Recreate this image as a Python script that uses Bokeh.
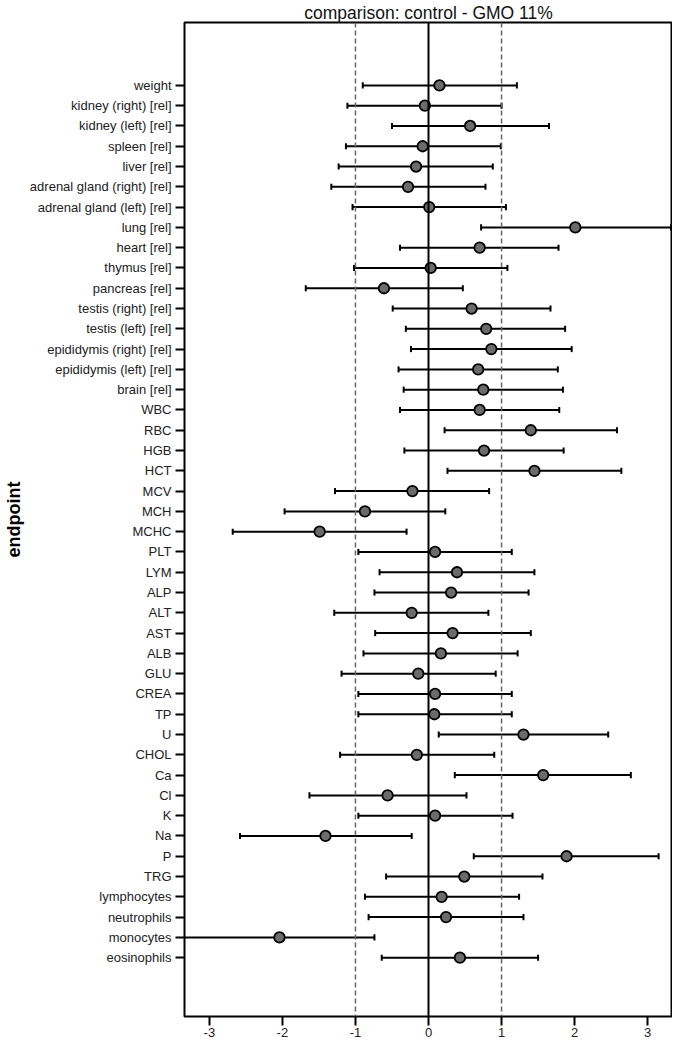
from bokeh.plotting import figure
from bokeh.models import Range1d, FixedTicker, Span, ColumnDataSource
from bokeh.embed import file_html
from bokeh.resources import INLINE

endpoints = ["weight", "kidney (right) [rel]", "kidney (left) [rel]", "spleen [rel]", "liver [rel]",
             "adrenal gland (right) [rel]", "adrenal gland (left) [rel]", "lung [rel]", "heart [rel]",
             "thymus [rel]", "pancreas [rel]", "testis (right) [rel]", "testis (left) [rel]",
             "epididymis (right) [rel]", "epididymis (left) [rel]", "brain [rel]", "WBC", "RBC", "HGB",
             "HCT", "MCV", "MCH", "MCHC", "PLT", "LYM", "ALP", "ALT", "AST", "ALB", "GLU", "CREA", "TP",
             "U", "CHOL", "Ca", "Cl", "K", "Na", "P", "TRG", "lymphocytes", "neutrophils", "monocytes",
             "eosinophils"]
estimate = [0.15, -0.05, 0.57, -0.08, -0.17, -0.28, 0.01, 2.01, 0.70, 0.03, -0.61, 0.59, 0.79, 0.86,
            0.68, 0.75, 0.70, 1.40, 0.76, 1.45, -0.22, -0.87, -1.49, 0.09, 0.39, 0.31, -0.23, 0.33,
            0.17, -0.14, 0.09, 0.08, 1.30, -0.16, 1.57, -0.56, 0.09, -1.41, 1.89, 0.49, 0.18, 0.24,
            -2.04, 0.43]
lower = [-0.90, -1.11, -0.50, -1.13, -1.23, -1.33, -1.04, 0.72, -0.39, -1.02, -1.68, -0.49, -0.31,
         -0.24, -0.41, -0.34, -0.39, 0.22, -0.33, 0.26, -1.28, -1.97, -2.68, -0.96, -0.67, -0.74,
         -1.29, -0.73, -0.89, -1.19, -0.96, -0.96, 0.14, -1.21, 0.36, -1.63, -0.96, -2.58, 0.62,
         -0.58, -0.87, -0.82, -3.36, -0.64]
upper = [1.21, 1.00, 1.65, 0.99, 0.88, 0.78, 1.06, 3.32, 1.78, 1.08, 0.47, 1.67, 1.87, 1.96, 1.77,
         1.84, 1.79, 2.58, 1.85, 2.64, 0.83, 0.23, -0.30, 1.14, 1.45, 1.37, 0.82, 1.40, 1.22, 0.92,
         1.14, 1.14, 2.46, 0.90, 2.77, 0.52, 1.15, -0.23, 3.15, 1.56, 1.24, 1.30, -0.74, 1.50]
x_ticks = [-3, -2, -1, 0, 1, 2, 3]
x_tick_labels = ["-3", "-2", "-1", "0", "1", "2", "3"]
ref_lines = [-1, 1]

n = len(endpoints)
ypos = [n - 1 - i for i in range(n)]
cap = 0.15

src = ColumnDataSource(dict(
    y=ypos, est=estimate, lo=lower, hi=upper,
    ylo=[y - cap for y in ypos], yhi=[y + cap for y in ypos],
))

FONT = "Liberation Sans"

p = figure(width=672, height=1039, sizing_mode="fixed", output_backend="svg", toolbar_location=None,
           x_range=Range1d(-3.34, 3.34), y_range=Range1d(-2.9, n + 2.1),
           min_border_left=174, min_border_right=0, min_border_top=0, min_border_bottom=0,
           title="comparison: control - GMO 11%")
p.title.align = "center"
p.title.text_font = FONT
p.title.text_font_style = "normal"
p.title.text_font_size = "17.5px"
p.title.text_color = "#111111"
p.title.offset = 0
p.title.standoff = 0

p.xgrid.visible = False
p.ygrid.visible = False
p.outline_line_color = "black"
p.outline_line_width = 2
p.background_fill_color = "white"

# reference lines
for v in ref_lines:
    p.add_layout(Span(location=v, dimension="height", line_color="#666666",
                      line_width=1.5, line_dash="5 3"))
p.add_layout(Span(location=0, dimension="height", line_color="black", line_width=2))

# error bars
p.segment(x0="lo", y0="y", x1="hi", y1="y", source=src, line_color="black", line_width=2)
p.segment(x0="lo", y0="ylo", x1="lo", y1="yhi", source=src, line_color="black", line_width=2)
p.segment(x0="hi", y0="ylo", x1="hi", y1="yhi", source=src, line_color="black", line_width=2)
p.scatter(x="est", y="y", source=src, size=10.5, fill_color="#6b6b6b",
          line_color="black", line_width=1.8)

# x axis
xa = p.xaxis[0]
xa.ticker = FixedTicker(ticks=x_ticks)
xa.major_label_overrides = {t: s for t, s in zip(x_ticks, x_tick_labels)}
xa.axis_line_color = None
xa.major_tick_out = 9
xa.major_tick_in = 0
xa.major_tick_line_width = 2
xa.major_tick_line_color = "black"
xa.minor_tick_line_color = None
xa.major_label_text_font = FONT
xa.major_label_text_font_size = "13px"
xa.major_label_text_color = "#222222"
xa.major_label_standoff = 2

# y axis
ya = p.yaxis[0]
ya.ticker = FixedTicker(ticks=ypos)
ya.major_label_overrides = {y: name for y, name in zip(ypos, endpoints)}
ya.axis_line_color = None
ya.major_tick_out = 9
ya.major_tick_in = 0
ya.major_tick_line_width = 2
ya.major_tick_line_color = "black"
ya.minor_tick_line_color = None
ya.major_label_text_font = FONT
ya.major_label_text_font_size = "13px"
ya.major_label_text_color = "#222222"
ya.major_label_standoff = 4
ya.axis_label = "endpoint"
ya.axis_label_text_font = FONT
ya.axis_label_text_font_style = "bold"
ya.axis_label_text_font_size = "18px"
ya.axis_label_text_color = "black"
ya.axis_label_standoff = 3

open("out.html", "w").write(file_html(p, INLINE))
